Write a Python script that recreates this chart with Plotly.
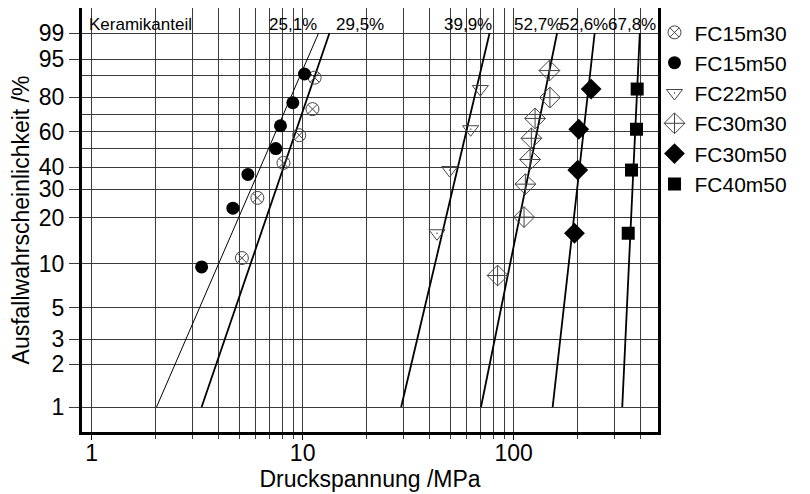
import numpy as np
import plotly.graph_objects as go

# ---- data ----
series_names = ["FC15m30", "FC15m50", "FC22m50", "FC30m30", "FC30m50", "FC40m50"]

# failure stress (MPa) and failure probability (%) of each specimen
FC15m30_x = [5.15, 6.10, 8.11, 9.63, 11.13, 11.4]
FC15m30_p = [10.9, 26.6, 42.2, 57.8, 73.4, 89.1]

FC15m50_x = [3.32, 4.67, 5.50, 7.46, 7.85, 8.98, 10.2]
FC15m50_p = [9.5, 23.0, 36.5, 50.0, 63.5, 77.0, 90.5]

FC22m50_x = [43.3, 49.7, 62.5, 69.5]
FC22m50_p = [15.9, 38.6, 61.4, 84.1]

FC30m30_x = [83.9, 112.0, 113.6, 119.6, 121.3, 126.3, 148.5, 147.7]
FC30m30_p = [8.3, 20.2, 32.1, 44.0, 56.0, 67.9, 79.8, 91.7]

FC30m50_x = [194.1, 201.2, 203.4, 232.8]
FC30m50_p = [15.9, 38.6, 61.4, 84.1]

FC40m50_x = [349.0, 361.7, 382.0, 384.9]
FC40m50_p = [15.9, 38.6, 61.4, 84.1]

# fitted Weibull lines: stress at 1 % and at 99 % failure probability
fit_p = [1, 99]
fit_x_lo = [3.32, 2.03, 29.3, 70.0, 153.0, 327.0]
fit_x_hi = [13.4, 11.9, 76.9, 160.6, 242.0, 396.0]

# ceramic fractions written above the lines
ceramic_labels = ["25,1%", "29,5%", "39,9%", "52,7%", "52,6%", "67,8%"]

y_tick_p = [1, 2, 3, 5, 10, 20, 30, 40, 60, 80, 95, 99]
y_minor_p = [50, 70, 90]
x_tick_vals = [1, 10, 100]
x_minor_vals = [2, 3, 4, 5, 6, 7, 8, 9, 20, 30, 40, 50, 60, 70, 80, 90, 200, 300, 400]


def weib(p):
    p = np.asarray(p, dtype=float) / 100.0
    return np.log(-np.log(1.0 - p))


FONT = "Arial, Liberation Sans, sans-serif"
OPEN_COL = "#444444"

xs = [FC15m30_x, FC15m50_x, FC22m50_x, FC30m30_x, FC30m50_x, FC40m50_x]
ps = [FC15m30_p, FC15m50_p, FC22m50_p, FC30m30_p, FC30m50_p, FC40m50_p]
styles = [
    dict(symbol="circle-x-open", size=13, color=OPEN_COL, line=dict(width=1, color=OPEN_COL)),
    dict(symbol="circle", size=13, color="black"),
    dict(symbol="triangle-down-open-dot", size=14, color=OPEN_COL, line=dict(width=1, color=OPEN_COL)),
    dict(symbol="diamond-cross-open", size=16, color=OPEN_COL, line=dict(width=1, color=OPEN_COL)),
    dict(symbol="diamond", size=16, color="black"),
    dict(symbol="square", size=13, color="black"),
]
line_widths = [1.8, 1.0, 1.8, 1.8, 1.8, 1.8]

fig = go.Figure()

for i in range(len(series_names)):
    fig.add_trace(go.Scatter(
        x=[fit_x_lo[i], fit_x_hi[i]], y=weib(fit_p), mode="lines",
        line=dict(color="black", width=line_widths[i]), showlegend=False, hoverinfo="skip"))

for i, name in enumerate(series_names):
    fig.add_trace(go.Scatter(
        x=xs[i], y=weib(ps[i]), mode="markers", name=name, marker=styles[i]))

# annotations
fig.add_annotation(text="Keramikanteil", xref="paper", yref="paper", x=0.008, y=0.962,
                   xanchor="left", yanchor="middle", showarrow=False,
                   font=dict(size=17, color="black", family=FONT))
label_pos = [0.3666, 0.4830, 0.6707, 0.7915, 0.8715, 0.955]
for lab, px in zip(ceramic_labels, label_pos):
    fig.add_annotation(text=lab, xref="paper", yref="paper", x=px, y=0.962,
                       xanchor="center", yanchor="middle", showarrow=False,
                       font=dict(size=17, color="black", family=FONT))

GRID = "#3a3a3a"
# the page body adds an 8 px offset, so the figure is 8 px smaller and margins shifted
fig.update_layout(
    width=802, height=486,
    margin=dict(l=74, r=152, t=0, b=62, autoexpand=False),
    paper_bgcolor="white", plot_bgcolor="white",
    font=dict(family=FONT, color="black", size=23),
    showlegend=True,
    legend=dict(x=0.9939, y=0.99, xanchor="left", yanchor="top",
                font=dict(size=21, family=FONT, color="black"),
                bgcolor="rgba(0,0,0,0)", tracegroupgap=0, itemwidth=30),
    xaxis=dict(
        type="log", range=[np.log10(0.9), np.log10(483)],
        tickmode="array", tickvals=x_tick_vals, ticktext=[str(v) for v in x_tick_vals],
        ticks="outside", ticklen=5, tickcolor="black", tickwidth=1,
        ticklabelstandoff=-7,
        showgrid=True, gridcolor=GRID, gridwidth=1,
        minor=dict(tickmode="array", tickvals=x_minor_vals, showgrid=True,
                   gridcolor=GRID, gridwidth=1, ticks="outside", ticklen=4, tickcolor=GRID),
        showline=True, linecolor="black", linewidth=3, mirror=True,
        zeroline=False,
        tickfont=dict(size=23),
        title=dict(text="Druckspannung /MPa", font=dict(size=23), standoff=0),
    ),
    yaxis=dict(
        range=[-5.0096, 1.937],
        tickmode="array", tickvals=weib(y_tick_p), ticktext=[str(v) for v in y_tick_p],
        ticks="outside", ticklen=10, tickcolor=GRID, tickwidth=1,
        showgrid=True, gridcolor=GRID, gridwidth=1,
        minor=dict(tickmode="array", tickvals=weib(y_minor_p), showgrid=True,
                   gridcolor=GRID, gridwidth=1, ticks=""),
        showline=True, linecolor="black", linewidth=3, mirror=True,
        zeroline=False,
        tickfont=dict(size=23),
        title=dict(text="Ausfallwahrscheinlichkeit /%", font=dict(size=23), standoff=4),
    ),
)

fig.write_html("out.html")
